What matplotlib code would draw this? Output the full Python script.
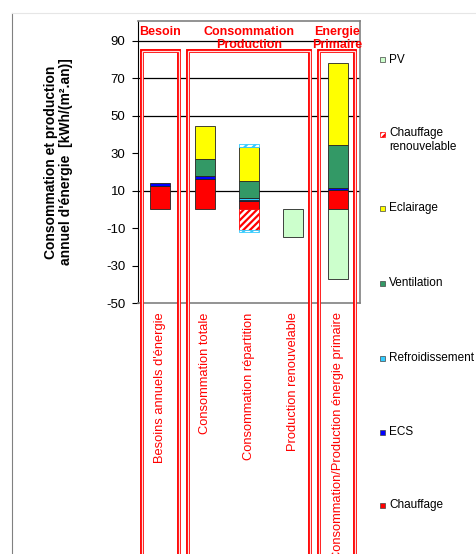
import numpy as np
import matplotlib
matplotlib.use('Agg')
import matplotlib.pyplot as plt
from matplotlib.patches import Rectangle
from matplotlib.lines import Line2D

plt.rcParams['font.family'] = ['Liberation Sans', 'DejaVu Sans']
plt.rcParams['hatch.linewidth'] = 1.6

# categories (x axis, written vertically below the plot)
categories = ["Besoins annuels d'énergie", "Consommation totale", "Consommation répartition",
              "Production renouvelable", "Consommation/Production énergie primaire"]

# positive stack, bottom to top
chauffage = [12.2, 16.1, 4.3, 0, 10.2]
ecs = [1.6, 1.7, 0.9, 0, 1.0]
refroidissement = [0, 0, 1.1, 0, 0]
ventilation = [0, 9.0, 9.0, 0, 23.1]
eclairage = [0, 17.8, 17.7, 0, 44.0]
refroid_renouv_haut = [0, 0, 1.6, 0, 0]

# negative stack, top to bottom
chauffage_renouv = [0, 0, -11.0, 0, 0]
refroid_renouv_bas = [0, 0, -1.2, 0, 0]
pv = [0, 0, 0, -14.6, -37.4]

yticks = [-50, -30, -10, 10, 30, 50, 70, 90]
grid_values = [10, 50, 70, 90]

groups = ["Besoin", "Consommation\nProduction", "Energie\nPrimaire"]
group_spans = [(-0.42, 0.42), (0.63, 3.37), (3.58, 4.39)]

RED = '#FF0000'
styles = {
    'Chauffage': dict(color=RED),
    'ECS': dict(color='#0000FF'),
    'Refroidissement': dict(color='#33CCFF'),
    'Ventilation': dict(color='#339966'),
    'Eclairage': dict(color='#FFFF00'),
    'Chauffage renouvelable': dict(color='white', hatch='/////', edge=RED),
    'PV': dict(color='#CCFFCC'),
}

fig = plt.figure(figsize=(4.76, 5.54), dpi=100)
ax = fig.add_axes([138 / 476, 1 - 303 / 554, 222 / 476, 282 / 554])

x = np.arange(len(categories))
w = 0.45

def draw(vals, base, name=None, color=None, hatch=None, edge='black'):
    vals = np.array(vals, dtype=float)
    mask = vals != 0
    if name is not None:
        st = styles[name]
        color = st['color']
        hatch = st.get('hatch')
        edge = st.get('edge', '#222222')
    ax.bar(x[mask], vals[mask], w, bottom=base[mask], color=color, hatch=hatch,
           edgecolor=edge, linewidth=0.6, zorder=3)
    return base + vals

base = np.zeros(len(x))
base = draw(chauffage, base, 'Chauffage')
base = draw(ecs, base, 'ECS')
base = draw(refroidissement, base, 'Refroidissement')
base = draw(ventilation, base, 'Ventilation')
base = draw(eclairage, base, 'Eclairage')
base = draw(refroid_renouv_haut, base, color='white', hatch='////', edge='#33CCFF')

nbase = np.zeros(len(x))
nbase = draw(chauffage_renouv, nbase, 'Chauffage renouvelable')
nbase = draw(refroid_renouv_bas, nbase, color='white', hatch='////', edge='#33CCFF')
nbase = draw(pv, nbase, 'PV')

ax.set_xlim(-0.5, 4.5)
ax.set_ylim(-50, 100.5)
ax.set_yticks(yticks)
ax.set_yticklabels([str(t) for t in yticks], fontsize=9.5)
ax.tick_params(axis='y', direction='out', length=4, width=0.8, pad=5)
ax.set_xticks([])
for v in grid_values:
    ax.axhline(v, color='black', lw=0.9, zorder=1)

for s in ['top', 'right', 'bottom']:
    ax.spines[s].set_color('#808080')
    ax.spines[s].set_linewidth(1.2)
ax.spines['left'].set_color('black')

ax.set_ylabel("Consommation et production\nannuel d'énergie  [kWh/(m².an)]",
              fontsize=10, fontweight='bold', labelpad=24, linespacing=1.1)

# group frames (double red lines) and titles
top_v = 84.7
for (a, b), title in zip(group_spans, groups):
    rect = Rectangle((a, -200), b - a, top_v + 200, fill=False, edgecolor=RED,
                     lw=2.8, clip_on=False, zorder=4)
    ax.add_patch(rect)
    inner = Rectangle((a, -200), b - a, top_v + 200, fill=False, edgecolor='#FFE0E0',
                      lw=0.9, clip_on=False, zorder=5)
    ax.add_patch(inner)
    ax.text((a + b) / 2, 97.8, title, color=RED, fontsize=9, fontweight='bold',
            ha='center', va='top', linespacing=1.1, zorder=6)

# category labels written vertically below the axis
for xi, lab in zip(x, categories):
    ax.text(xi, -55.0, lab, rotation=90, color=RED, fontsize=9.3,
            ha='center', va='top', clip_on=False)

# legend on the right
legend_items = [('PV', 60), ('Chauffage renouvelable', 134), ('Eclairage', 208),
                ('Ventilation', 283), ('Refroidissement', 358), ('ECS', 432),
                ('Chauffage', 505)]
for name, py in legend_items:
    st = styles[name]
    yf = 1 - py / 554
    sq = Rectangle((380 / 476, yf - 2.5 / 554), 5 / 476, 5 / 554, transform=fig.transFigure,
                   facecolor=st['color'], hatch=st.get('hatch'),
                   edgecolor=st.get('edge', '#444444'), lw=0.5)
    fig.patches.append(sq)
    if name == 'Chauffage renouvelable':
        fig.text(389 / 476, yf + 6.5 / 554, 'Chauffage\nrenouvelable', fontsize=8.5,
                 va='top', ha='left', linespacing=1.15)
    else:
        fig.text(389 / 476, yf, name, fontsize=8.5, va='center', ha='left')

# outer chart border lines
fig.add_artist(Line2D([12 / 476, 12 / 476], [0, 1 - 13 / 554], color='#808080', lw=0.8))
fig.add_artist(Line2D([12 / 476, 1], [1 - 13 / 554, 1 - 13 / 554], color='#E6E6E6', lw=0.8))

fig.savefig('out.png', dpi=100)
